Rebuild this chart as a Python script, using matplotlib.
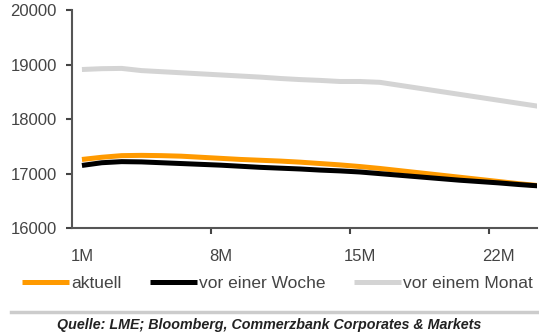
import matplotlib.pyplot as plt
from matplotlib.lines import Line2D

# Terminkurve (Monate 1..24)
months = list(range(1, 25))
aktuell = [17260, 17300, 17330, 17335, 17330, 17320, 17300, 17280, 17260, 17245,
           17230, 17210, 17185, 17160, 17130, 17095, 17055, 17015, 16975, 16935,
           16895, 16855, 16815, 16780]
vor_woche = [17150, 17200, 17220, 17215, 17200, 17185, 17170, 17155, 17135, 17115,
             17100, 17085, 17065, 17050, 17030, 17000, 16970, 16940, 16910, 16880,
             16855, 16830, 16800, 16775]
vor_monat = [18910, 18925, 18930, 18890, 18870, 18850, 18830, 18810, 18790, 18770,
             18745, 18725, 18710, 18690, 18690, 18675, 18620, 18565, 18510, 18455,
             18400, 18345, 18290, 18235]
tick_labels = ["1M", "8M", "15M", "22M"]
label_months = [1, 8, 15, 22]

plt.rcParams['font.family'] = ['Liberation Sans', 'DejaVu Sans']

fig = plt.figure(figsize=(5.39, 3.36), dpi=100)
ax = fig.add_axes([0.1336, 0.321, 0.862, 0.649])

# category centres sit half a step right of the boundaries
x = [m - 0.5 for m in months]
ax.plot(x, vor_monat, color='#d4d4d4', linewidth=3.6, solid_capstyle='butt', label='vor einem Monat')
ax.plot(x, aktuell, color='#ff9a00', linewidth=3.6, solid_capstyle='butt', label='aktuell')
ax.plot(x, vor_woche, color='black', linewidth=3.6, solid_capstyle='butt', label='vor einer Woche')

ax.set_xlim(0, 23.4)
ax.set_ylim(16000, 20000)
ax.set_yticks([16000, 17000, 18000, 19000, 20000])
ax.set_yticklabels(['16000', '17000', '18000', '19000', '20000'])

ax.set_xticks([7, 14, 21])
ax.set_xticklabels([])
ax.set_xticks([m - 0.5 for m in label_months], minor=True)
ax.set_xticklabels(tick_labels, minor=True)
ax.tick_params(axis='x', which='minor', length=0, pad=15, labelsize=12, labelcolor='#444444')
ax.tick_params(axis='x', which='major', length=4, width=1.5, color='#444444')
ax.tick_params(axis='y', length=4, width=1.5, color='#444444', pad=7, labelsize=12, labelcolor='#444444')

for s in ['top', 'right']:
    ax.spines[s].set_visible(False)
for s in ['left', 'bottom']:
    ax.spines[s].set_color('#555555')
    ax.spines[s].set_linewidth(1.5)

h, l = ax.get_legend_handles_labels()
order = [1, 2, 0]
leg = ax.legend([h[i] for i in order], [l[i] for i in order], ncol=3, frameon=False,
                loc='center left', bbox_to_anchor=(0.04, 0.155), bbox_transform=fig.transFigure,
                handlelength=2.75, handletextpad=0.12, columnspacing=1.6, fontsize=12.5,
                borderaxespad=0, borderpad=0)
for t in leg.get_texts():
    t.set_color('#444444')

fig.add_artist(Line2D([0.02, 1.0], [0.071, 0.071], transform=fig.transFigure,
                      color='#cccccc', linewidth=2.5))
fig.text(0.5, 0.033, 'Quelle: LME; Bloomberg, Commerzbank Corporates & Markets',
         ha='center', va='center', fontsize=10.3, fontstyle='italic', fontweight='bold',
         color='#222222')

fig.savefig('out.png', dpi=100, facecolor='white')
plt.close(fig)
